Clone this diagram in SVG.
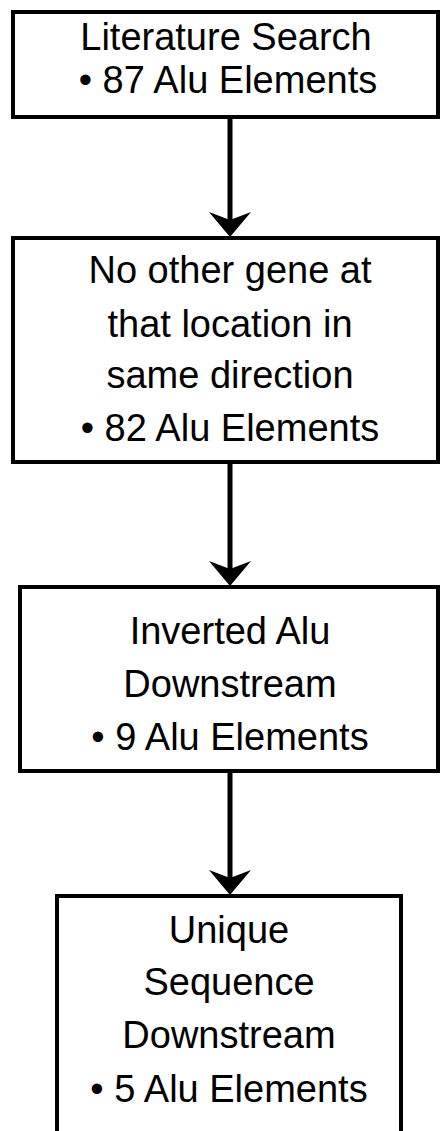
<svg xmlns="http://www.w3.org/2000/svg" width="440" height="1131" viewBox="0 0 440 1131">
<style>
.box{fill:#fff;stroke:#000;stroke-width:4}
.t{font-family:"Liberation Sans",Arial,sans-serif;font-size:38px;fill:#000;text-anchor:middle}
.shaft{stroke:#000;stroke-width:5;fill:none}
.head{fill:#000}
</style>
<rect width="440" height="1131" fill="#fff"/>
<g id="connectors">
<line class="shaft" x1="230" y1="117" x2="230" y2="222"/>
<path class="head" d="M230,237 L209,212 L230,220 L251,212 Z"/>
<line class="shaft" x1="230" y1="462" x2="230" y2="571"/>
<path class="head" d="M230,586 L209,561 L230,569 L251,561 Z"/>
<line class="shaft" x1="230" y1="771" x2="230" y2="880"/>
<path class="head" d="M230,895 L209,870 L230,878 L251,870 Z"/>
</g>
<g id="node1">
<rect class="box" x="13" y="12" width="425" height="105"/>
<text class="t" x="226" y="50">Literature Search</text>
<text class="t" x="228" y="93">• 87 Alu Elements</text>
</g>
<g id="node2">
<rect class="box" x="13" y="238" width="425" height="224"/>
<text class="t" x="230" y="283">No other gene at</text>
<text class="t" x="230" y="337">that location in</text>
<text class="t" x="230" y="388">same direction</text>
<text class="t" x="230" y="441">• 82 Alu Elements</text>
</g>
<g id="node3">
<rect class="box" x="20" y="587" width="418" height="184"/>
<text class="t" x="230" y="644">Inverted Alu</text>
<text class="t" x="230" y="697">Downstream</text>
<text class="t" x="230" y="750">• 9 Alu Elements</text>
</g>
<g id="node4">
<rect class="box" x="57" y="896" width="344" height="250"/>
<text class="t" x="229" y="943">Unique</text>
<text class="t" x="229" y="995">Sequence</text>
<text class="t" x="229" y="1048">Downstream</text>
<text class="t" x="229" y="1102">• 5 Alu Elements</text>
</g>
</svg>
